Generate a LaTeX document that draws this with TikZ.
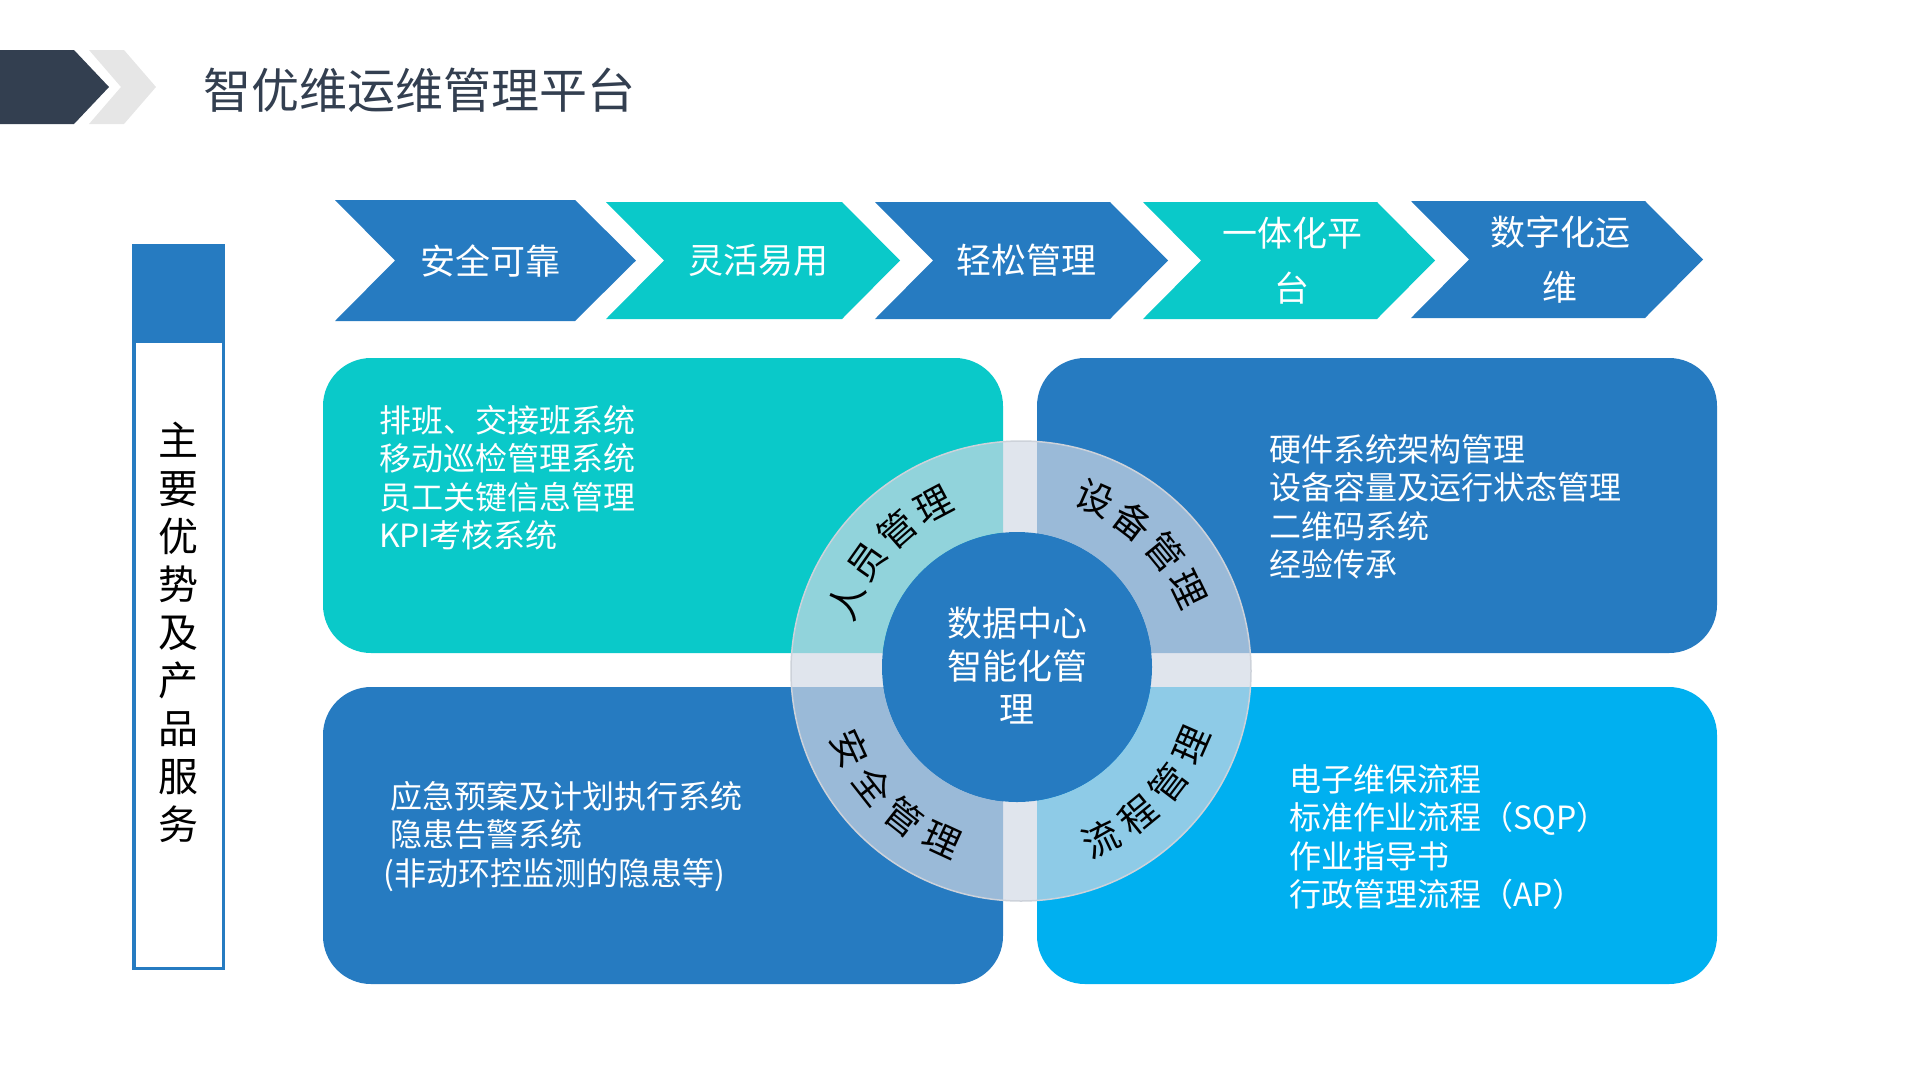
\documentclass[tikz,border=0pt]{standalone}
\usepackage{fontspec}
\setmainfont{Noto Sans CJK SC}
\usetikzlibrary{calc}
\definecolor{cblue}{RGB}{38,123,193}
\definecolor{cteal}{RGB}{10,201,201}
\definecolor{csky}{RGB}{0,176,240}
\definecolor{cdark}{RGB}{51,63,80}
\definecolor{cgray}{RGB}{230,230,230}
\definecolor{cring}{RGB}{210,216,228}
\definecolor{cringline}{RGB}{205,210,218}
\begin{document}
\begin{tikzpicture}[x=1pt,y=-1pt,
  chevtxt/.style={text=white,align=center,inner sep=0pt,font=\fontsize{35}{55}\selectfont},
  boxtxt/.style={text=white,align=left,anchor=north west,inner sep=0pt,font=\fontsize{32}{38.5}\selectfont},
  ringlbl/.style={text=black,inner sep=0pt,font=\fontsize{37}{40}\selectfont},
  cardbox/.style={rounded corners=48pt}]
\useasboundingbox (0,0) rectangle (1920,1080);
% title marker
\fill[cdark] (0,50) -- (74,50) -- (109,87) -- (74,124) -- (0,124) -- cycle;
\fill[cgray] (89,50) -- (124,50) -- (156,87) -- (124,124) -- (89,124) -- (121,87) -- cycle;
\node[anchor=west,inner sep=0pt,text=cdark,font=\fontsize{48}{56}\selectfont] (title) at (203,90) {智优维运维管理平台};
% left vertical bar
\fill[white] (132,244) rectangle (225,970);
\draw[cblue,line width=3.5pt] (133.75,245.75) rectangle (223.25,968.25);
\fill[cblue] (132,244) rectangle (225,343);
\node[align=center,inner sep=0pt,text=black,font=\fontsize{40}{48}\selectfont] (side) at (178,632) {主\\要\\优\\势\\及\\产\\品\\服\\务};
% chevrons: left, notch depth, shoulder, tip, top, bottom, text x
\foreach \L/\n/\s/\t/\yt/\yb/\col/\tx/\txt [count=\i] in
  {335/60/240/301/200/321/cblue/490/{安全可靠},
   606/58/236/294/202/319/cteal/758/{灵活易用},
   875/58/235/293/202/319/cblue/1026/{轻松管理},
   1143/58/234/292/202/319/cteal/1292/{一体化平\\台},
   1411/58/234/292/201/318/cblue/1560/{数字化运\\维}}{
  \fill[\col] (\L,\yt) -- (\L+\s,\yt) -- (\L+\t,{(\yt+\yb)/2}) -- (\L+\s,\yb) -- (\L,\yb) -- (\L+\n,{(\yt+\yb)/2}) -- cycle;
  \node[chevtxt] (cv\i) at (\tx,{(\yt+\yb)/2}) {\txt};
}
% four cards
\fill[cteal,cardbox] (323,358) rectangle (1003,653);
\fill[cblue,cardbox] (1037,358) rectangle (1717,653);
\fill[cblue,cardbox] (323,687) rectangle (1003,984);
\fill[csky,cardbox] (1037,687) rectangle (1717,984);
\node[boxtxt] (tl) at (379,405) {排班、交接班系统\\移动巡检管理系统\\员工关键信息管理\\KPI考核系统};
\node[boxtxt] (tr) at (1269,434) {硬件系统架构管理\\设备容量及运行状态管理\\二维码系统\\经验传承};
\node[boxtxt] (bl) at (390,781) {应急预案及计划执行系统\\隐患告警系统\\\hspace*{-7pt}(非动环控监测的隐患等)};
\node[boxtxt] (br) at (1289,764) {电子维保流程\\标准作业流程（SQP）\\作业指导书\\行政管理流程（AP）};
% ring
\coordinate (c) at (1020,670);
\coordinate (co) at (1021,671);
\coordinate (ci) at (1017,667);
\fill[cring,fill opacity=0.68,even odd rule] (co) circle[radius=230] (ci) circle[radius=135];
\draw[cringline,line width=1.5pt] (co) circle[radius=230];
\fill[cblue] (ci) circle[radius=135];
\node[align=center,inner sep=0pt,text=white,font=\fontsize{35}{43}\selectfont] (center) at (1017,666) {数据中心\\智能化管\\理};
% ring labels (each character on the arc)
\foreach \ch [count=\i] in {人,员,管,理}{
  \pgfmathsetmacro{\a}{138+(2.5-\i)*13.5}
  \node[ringlbl,rotate=\a-90] (ra\i) at ($(c)+({187*cos(\a)},{-187*sin(\a)})$) {\ch};
}
\foreach \ch [count=\i] in {设,备,管,理}{
  \pgfmathsetmacro{\a}{46+(2.5-\i)*13.5}
  \node[ringlbl,rotate=\a-90] (rb\i) at ($(c)+({187*cos(\a)},{-187*sin(\a)})$) {\ch};
}
\foreach \ch [count=\i] in {安,全,管,理}{
  \pgfmathsetmacro{\a}{225+(\i-2.5)*13.5}
  \node[ringlbl,rotate=\a+90] (rc\i) at ($(c)+({187*cos(\a)},{-187*sin(\a)})$) {\ch};
}
\foreach \ch [count=\i] in {流,程,管,理}{
  \pgfmathsetmacro{\a}{-44+(\i-2.5)*13.5}
  \node[ringlbl,rotate=\a+90] (rd\i) at ($(c)+({187*cos(\a)},{-187*sin(\a)})$) {\ch};
}
\end{tikzpicture}
\end{document}
